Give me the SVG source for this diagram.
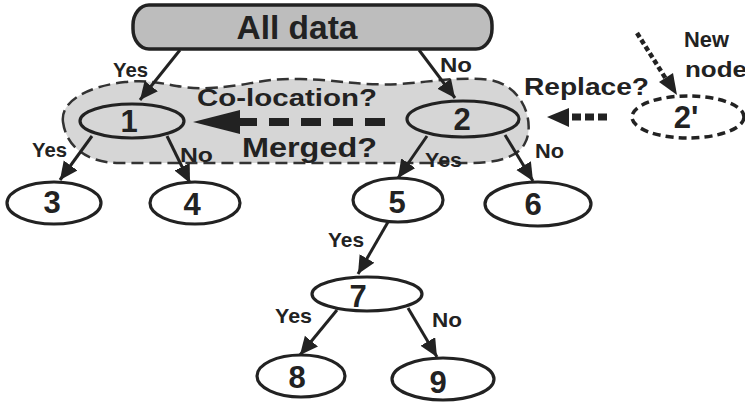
<svg xmlns="http://www.w3.org/2000/svg" width="745" height="408" viewBox="0 0 745 408">
<style>
text{font-family:"Liberation Sans",Arial,sans-serif;font-weight:bold;fill:#222}
.num{font-size:31px;text-anchor:middle}
.lbl{font-size:21px}
.node{stroke:#222;stroke-width:3.2;fill:#fff}
.gnode{stroke:#222;stroke-width:3.2;fill:#d6d6d6}
.edge{stroke:#222;stroke-width:3;fill:none;marker-end:url(#ah)}
</style>
<defs>
<marker id="ah" markerUnits="userSpaceOnUse" markerWidth="20" markerHeight="20" refX="18" refY="8.5" orient="auto">
<path d="M0,0 L18,8.5 L0,17 Z" fill="#222"/>
</marker>
</defs>
<rect width="745" height="408" fill="#fff"/>
<g id="cluster">
<path d="M63,122 C60,100 90,86 125,82 C160,78 175,90 210,88 C250,86 260,78 300,79 C340,80 360,86 400,84 C430,82 460,76 490,80 C525,86 535,125 525,143 C518,158 495,163 470,163 L120,163 C85,163 66,145 63,122 Z" fill="#d6d6d6" stroke="#333" stroke-width="2.5" stroke-dasharray="12 6"/>
</g>
<g id="root">
<rect x="133" y="5" width="359" height="44" rx="16" ry="20" fill="#bdbdbd" stroke="#222" stroke-width="3.5"/>
<text x="297" y="39" style="font-size:33px;text-anchor:middle" textLength="121" lengthAdjust="spacingAndGlyphs">All data</text>
</g>
<g id="connectors">
<line class="edge" x1="180" y1="50" x2="140" y2="100"/>
<line class="edge" x1="419" y1="50" x2="455" y2="98"/>
<line class="edge" x1="92" y1="136" x2="60" y2="180"/>
<line class="edge" x1="167" y1="136" x2="190" y2="183"/>
<line class="edge" x1="427" y1="136" x2="398" y2="178"/>
<line class="edge" x1="505" y1="135" x2="533" y2="181"/>
<line class="edge" x1="388" y1="222" x2="358" y2="274"/>
<line class="edge" x1="337" y1="310" x2="300" y2="355"/>
<line class="edge" x1="408" y1="308" x2="437" y2="357"/>
<line x1="637" y1="33" x2="666" y2="79" stroke="#222" stroke-width="4.5" stroke-dasharray="5 3"/>
<path d="M677,95 L659,82 L673,73 Z" fill="#222"/>
<line x1="385" y1="122" x2="240" y2="122" stroke="#222" stroke-width="8" stroke-dasharray="20 12"/>
<path d="M193,122 L240,110 L240,134 Z" fill="#222"/>
<line x1="607" y1="117" x2="569" y2="117" stroke="#222" stroke-width="7" stroke-dasharray="9 4"/>
<path d="M547,117 L569,108 L569,127 Z" fill="#222"/>
<text class="lbl" x="113" y="77" textLength="35" lengthAdjust="spacingAndGlyphs">Yes</text>
<text class="lbl" x="440" y="72" textLength="32" lengthAdjust="spacingAndGlyphs">No</text>
<text class="lbl" x="32" y="157" textLength="35" lengthAdjust="spacingAndGlyphs">Yes</text>
<text class="lbl" x="180" y="162" textLength="33" lengthAdjust="spacingAndGlyphs">No</text>
<text class="lbl" x="425" y="167" textLength="37" lengthAdjust="spacingAndGlyphs">Yes</text>
<text class="lbl" x="535" y="158" textLength="29" lengthAdjust="spacingAndGlyphs">No</text>
<text class="lbl" x="328" y="247" textLength="36" lengthAdjust="spacingAndGlyphs">Yes</text>
<text class="lbl" x="275" y="323" textLength="37" lengthAdjust="spacingAndGlyphs">Yes</text>
<text class="lbl" x="432" y="327" textLength="30" lengthAdjust="spacingAndGlyphs">No</text>
<text x="197" y="106" style="font-size:23px" textLength="180" lengthAdjust="spacingAndGlyphs">Co-location?</text>
<text x="242" y="157" style="font-size:27px" textLength="135" lengthAdjust="spacingAndGlyphs">Merged?</text>
<text x="524" y="95" style="font-size:23px" textLength="125" lengthAdjust="spacingAndGlyphs">Replace?</text>
<text x="684" y="47" style="font-size:22px" textLength="45" lengthAdjust="spacingAndGlyphs">New</text>
<text x="685" y="77" style="font-size:22px" textLength="62" lengthAdjust="spacingAndGlyphs">node</text>
</g>
<g id="n1"><ellipse class="gnode" cx="132" cy="121" rx="52" ry="17"/><text class="num" x="129" y="132">1</text></g>
<g id="n2"><ellipse class="gnode" cx="463" cy="119" rx="56" ry="18"/><text class="num" x="462" y="130">2</text></g>
<g id="n2p"><ellipse cx="688" cy="117" rx="56" ry="21" fill="none" stroke="#222" stroke-width="3.5" stroke-dasharray="8 5"/><text class="num" x="686" y="128">2'</text></g>
<g id="n3"><ellipse class="node" cx="54" cy="203" rx="47" ry="21"/><text class="num" x="52" y="213">3</text></g>
<g id="n4"><ellipse class="node" cx="195" cy="203" rx="45" ry="21"/><text class="num" x="192" y="215">4</text></g>
<g id="n5"><ellipse class="node" cx="398" cy="200" rx="45" ry="22"/><text class="num" x="397" y="213">5</text></g>
<g id="n6"><ellipse class="node" cx="538" cy="204" rx="53" ry="22"/><text class="num" x="533" y="215">6</text></g>
<g id="n7"><ellipse class="node" cx="367" cy="294" rx="55" ry="17"/><text class="num" x="358" y="307">7</text></g>
<g id="n8"><ellipse class="node" cx="301" cy="376" rx="44" ry="21"/><text class="num" x="297" y="388">8</text></g>
<g id="n9"><ellipse class="node" cx="443" cy="379" rx="51" ry="21"/><text class="num" x="438" y="393">9</text></g>
</svg>
